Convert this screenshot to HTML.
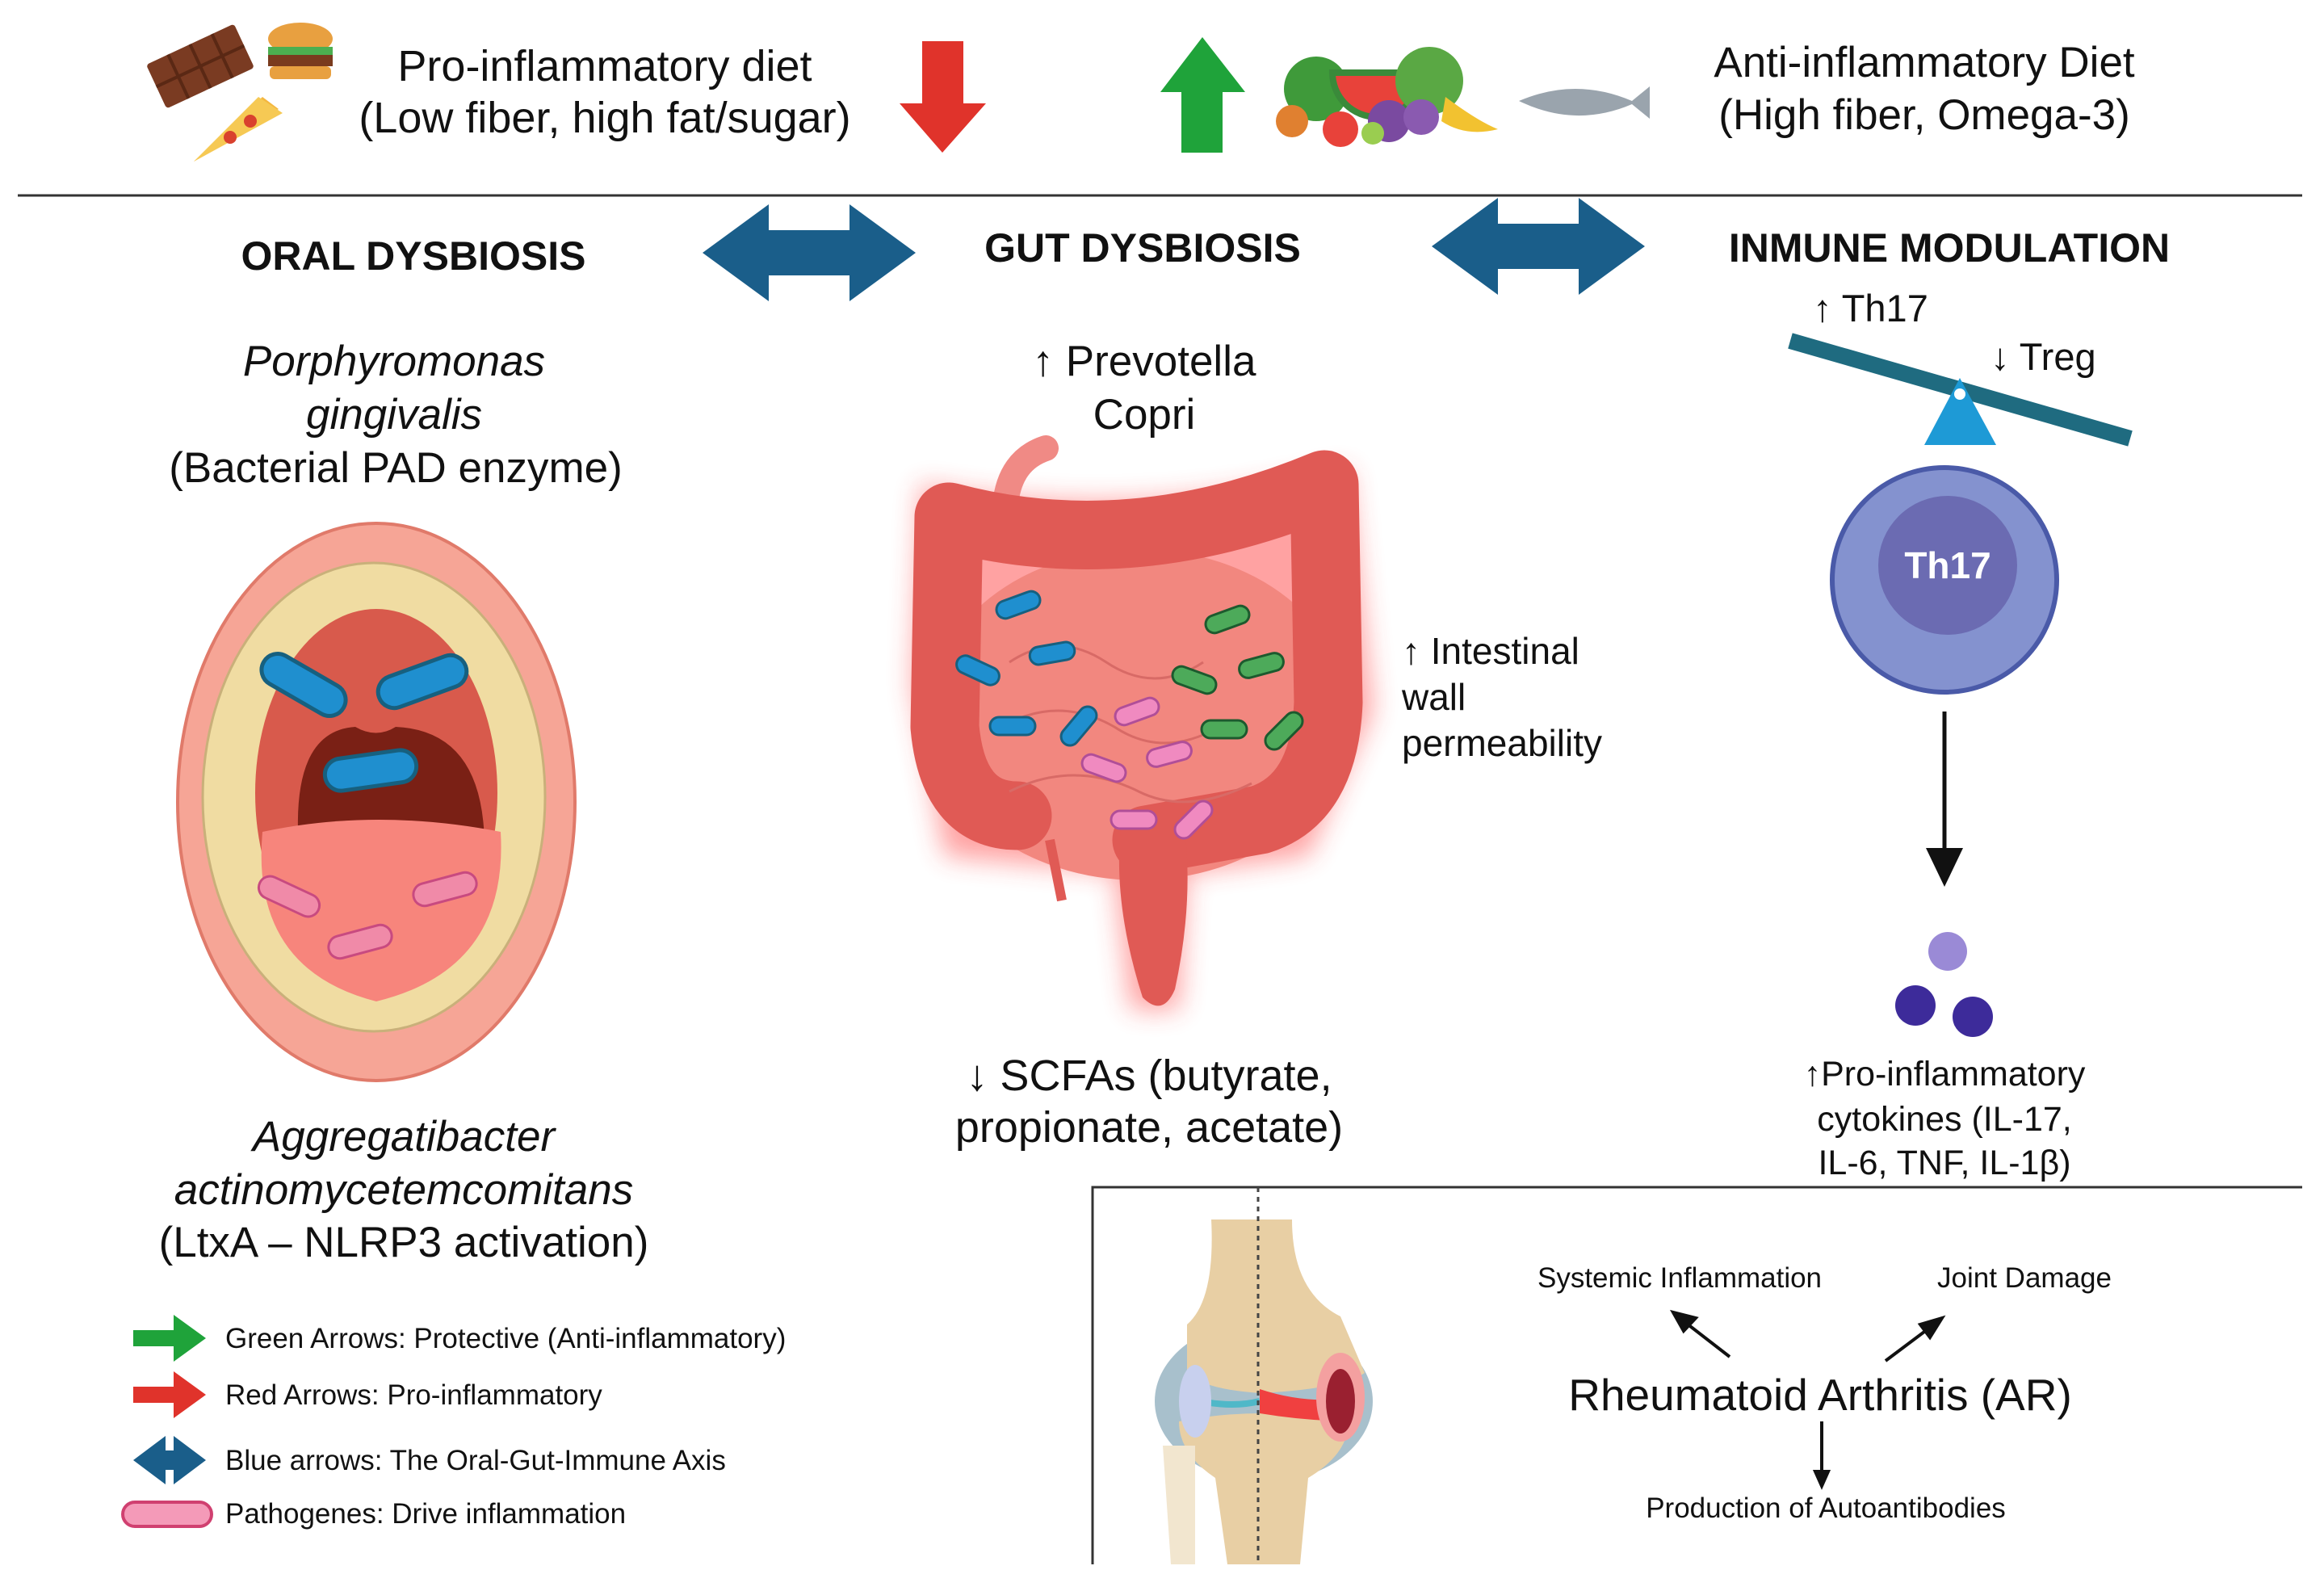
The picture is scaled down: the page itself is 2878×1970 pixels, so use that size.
<!DOCTYPE html>
<html><head><meta charset="utf-8"><style>
html,body{margin:0;padding:0;background:#fff}
svg{display:block}
text{font-family:"Liberation Sans",sans-serif;fill:#111}
</style></head><body>
<svg width="2878" height="1970" viewBox="0 0 2878 1970" xmlns="http://www.w3.org/2000/svg">
<defs>
<filter id="glow" x="-20%" y="-20%" width="140%" height="140%"><feGaussianBlur stdDeviation="16"/></filter>
<g id="bb"><rect x="-28" y="-11" width="56" height="22" rx="11" fill="#1f8fcf" stroke="#17607f" stroke-width="3"/></g>
<g id="gb"><rect x="-28" y="-11" width="56" height="22" rx="11" fill="#4daa5a" stroke="#1d5a2e" stroke-width="3"/></g>
<g id="pb"><rect x="-28" y="-11" width="56" height="22" rx="11" fill="#f08ac0" stroke="#b04e98" stroke-width="3"/></g>
</defs>

<!-- top icons -->
<g transform="translate(248,82) rotate(-25)"><rect x="-60" y="-30" width="120" height="60" rx="4" fill="#7a3b22"/><path d="M-30 -30V30M0 -30V30M30 -30V30M-60 0H60" stroke="#5a2814" stroke-width="4"/></g>
<ellipse cx="372" cy="48" rx="40" ry="20" fill="#e8a040"/><rect x="332" y="58" width="80" height="10" fill="#4caf50"/><rect x="332" y="68" width="80" height="14" fill="#7a3b1e"/><rect x="334" y="82" width="76" height="16" rx="6" fill="#e8a040"/>
<path d="M240 200 L345 135 L325 120 Z" fill="#f4b740"/><path d="M240 200 L320 120 L350 140 Z" fill="#f6c954"/><circle cx="285" cy="170" r="8" fill="#d9412e"/><circle cx="310" cy="150" r="8" fill="#d9412e"/>
<text x="749" y="100" font-size="54" text-anchor="middle">Pro-inflammatory diet</text>
<text x="749" y="164" font-size="54" text-anchor="middle">(Low fiber, high fat/sugar)</text>
<path d="M1142 51H1193V128H1221L1167 189L1114 128H1142Z" fill="#e0332b"/>
<path d="M1463 189V114H1437L1489 46L1542 114H1514V189Z" fill="#1fa33a"/>
<!-- veggies -->
<circle cx="1630" cy="110" r="40" fill="#3f9a3a"/><path d="M1650 90 a55 55 0 0 0 110 0Z" fill="#e8423a" stroke="#3a8a3a" stroke-width="8"/><circle cx="1770" cy="100" r="42" fill="#5aa844"/><circle cx="1720" cy="150" r="26" fill="#7a4aa0"/><circle cx="1760" cy="145" r="22" fill="#8a5ab0"/><path d="M1790 120 q40 30 65 40 q-40 10 -70 -10Z" fill="#f2c230"/><circle cx="1600" cy="150" r="20" fill="#e08030"/><circle cx="1660" cy="160" r="22" fill="#e8423a"/><circle cx="1700" cy="165" r="14" fill="#9acd50"/>
<path d="M1881 125 q70 -30 140 0 l22 -18 v40 l-22 -18 q-70 30 -140 -4Z" fill="#9aa4ad"/>
<text x="2383" y="95" font-size="53" text-anchor="middle">Anti-inflammatory Diet</text>
<text x="2383" y="160" font-size="53" text-anchor="middle">(High fiber, Omega-3)</text>
<line x1="22" y1="242" x2="2851" y2="242" stroke="#333" stroke-width="3"/>

<!-- headings + blue arrows -->
<text x="512" y="334" font-size="50" font-weight="bold" text-anchor="middle">ORAL DYSBIOSIS</text>
<text x="1415" y="324" font-size="50" font-weight="bold" text-anchor="middle">GUT DYSBIOSIS</text>
<text x="2414" y="324" font-size="50" font-weight="bold" text-anchor="middle">INMUNE MODULATION</text>
<path d="M870 313 L952 253 V285 H1052 V253 L1134 313 L1052 373 V341 H952 V373Z" fill="#1a5e8a"/>
<path d="M1773 305 L1855 245 V277 H1955 V245 L2037 305 L1955 365 V333 H1855 V365Z" fill="#1a5e8a"/>

<!-- oral text -->
<text x="488" y="465" font-size="53" font-style="italic" text-anchor="middle">Porphyromonas</text>
<text x="488" y="531" font-size="53" font-style="italic" text-anchor="middle">gingivalis</text>
<text x="490" y="597" font-size="53" text-anchor="middle">(Bacterial PAD enzyme)</text>

<!-- mouth -->
<ellipse cx="466" cy="993" rx="246" ry="345" fill="#f6a596" stroke="#e07a6a" stroke-width="4"/>
<ellipse cx="463" cy="987" rx="212" ry="290" fill="#f0dca2" stroke="#c9b07a" stroke-width="3"/>
<ellipse cx="466" cy="982" rx="150" ry="228" fill="#d85a4c"/>
<path d="M370 1050 Q360 905 440 900 Q466 915 490 900 Q600 905 600 1050Z" fill="#7a2015"/>
<path d="M325 1030 Q466 1000 620 1030 Q630 1200 466 1240 Q310 1200 325 1030Z" fill="#f7857c"/>
<g transform="translate(376,848) rotate(30)"><rect x="-57" y="-20" width="114" height="40" rx="20" fill="#1f8fcf" stroke="#17607f" stroke-width="5"/></g>
<g transform="translate(523,844) rotate(-20)"><rect x="-57" y="-20" width="114" height="40" rx="20" fill="#1f8fcf" stroke="#17607f" stroke-width="5"/></g>
<g transform="translate(459,954) rotate(-8)"><rect x="-57" y="-20" width="114" height="40" rx="20" fill="#1f8fcf" stroke="#17607f" stroke-width="5"/></g>
<g transform="translate(358,1110) rotate(25)"><rect x="-40" y="-14" width="80" height="28" rx="14" fill="#f08aa8" stroke="#c84a80" stroke-width="3"/></g>
<g transform="translate(551,1101) rotate(-15)"><rect x="-40" y="-14" width="80" height="28" rx="14" fill="#f08aa8" stroke="#c84a80" stroke-width="3"/></g>
<g transform="translate(446,1166) rotate(-15)"><rect x="-40" y="-14" width="80" height="28" rx="14" fill="#f08aa8" stroke="#c84a80" stroke-width="3"/></g>

<text x="500" y="1425" font-size="53" font-style="italic" text-anchor="middle">Aggregatibacter</text>
<text x="500" y="1491" font-size="53" font-style="italic" text-anchor="middle">actinomycetemcomitans</text>
<text x="500" y="1556" font-size="53" text-anchor="middle">(LtxA – NLRP3 activation)</text>

<!-- legend -->
<path d="M165 1647H215V1628L255 1657L215 1686V1667H165Z" fill="#1fa33a"/>
<path d="M165 1717H215V1698L255 1727L215 1756V1737H165Z" fill="#e0332b"/>
<path d="M165 1808L205 1778V1796H215V1778L255 1808L215 1838V1820H205V1838Z" fill="#1a5e8a"/>
<rect x="152" y="1860" width="110" height="30" rx="15" fill="#f49ab8" stroke="#d04070" stroke-width="4"/>
<text x="279" y="1669" font-size="35">Green Arrows: Protective (Anti-inflammatory)</text>
<text x="279" y="1739" font-size="35">Red Arrows: Pro-inflammatory</text>
<text x="279" y="1820" font-size="35">Blue arrows: The Oral-Gut-Immune Axis</text>
<text x="279" y="1886" font-size="35">Pathogenes: Drive inflammation</text>

<!-- gut -->
<text x="1417" y="465" font-size="53" text-anchor="middle">↑ Prevotella</text>
<text x="1417" y="531" font-size="53" text-anchor="middle">Copri</text>
<g>
<path d="M1140 600 Q1400 650 1670 580 L1700 880 L1620 1060 L1470 1080 L1460 1250 L1400 1250 L1380 1080 L1170 1060 L1130 850Z" fill="#ff3030" opacity="0.45" filter="url(#glow)"/>
<path d="M1245 625 Q1250 570 1295 555" stroke="#f08a85" stroke-width="32" fill="none" stroke-linecap="round"/>
<ellipse cx="1410" cy="885" rx="260" ry="205" fill="#f2877f"/>
<path d="M1175 640 Q1400 700 1640 600 L1645 870 Q1640 990 1560 1015 L1420 1040 M1175 640 L1170 900 Q1180 1010 1260 1010" stroke="#e05a55" stroke-width="85" fill="none" stroke-linejoin="round" stroke-linecap="round"/>
<path d="M1390 1010 Q1375 1110 1415 1235 Q1440 1260 1455 1225 Q1480 1110 1465 1010Z" fill="#e05a55"/>
<path d="M1300 1040 Q1310 1090 1315 1115" stroke="#e05a55" stroke-width="12" fill="none"/>
<g fill="none" stroke="#d86a66" stroke-width="3"><path d="M1250 820 q60 -40 120 0 q60 40 120 0"/><path d="M1240 900 q70 -40 140 0 q60 40 130 0"/><path d="M1250 980 q80 -40 160 0 q60 30 140 -10"/></g>
</g>
<use href="#bb" transform="translate(1261,749) rotate(-20)"/><use href="#bb" transform="translate(1303,809) rotate(-10)"/><use href="#bb" transform="translate(1211,830) rotate(25)"/><use href="#bb" transform="translate(1254,899)"/><use href="#bb" transform="translate(1336,899) rotate(-50)"/>
<use href="#gb" transform="translate(1520,767) rotate(-20)"/><use href="#gb" transform="translate(1562,824) rotate(-15)"/><use href="#gb" transform="translate(1479,842) rotate(20)"/><use href="#gb" transform="translate(1516,903)"/><use href="#gb" transform="translate(1590,905) rotate(-45)"/>
<use href="#pb" transform="translate(1408,881) rotate(-20)"/><use href="#pb" transform="translate(1367,951) rotate(20)"/><use href="#pb" transform="translate(1448,934) rotate(-15)"/><use href="#pb" transform="translate(1404,1015)"/><use href="#pb" transform="translate(1478,1015) rotate(-45)"/>
<text x="1736" y="822" font-size="46">↑ Intestinal</text>
<text x="1736" y="879" font-size="46">wall</text>
<text x="1736" y="936" font-size="46">permeability</text>
<text x="1423" y="1350" font-size="54" text-anchor="middle">↓ SCFAs (butyrate,</text>
<text x="1423" y="1414" font-size="54" text-anchor="middle">propionate, acetate)</text>

<!-- immune -->
<text x="2245" y="398" font-size="47">↑ Th17</text>
<text x="2465" y="458" font-size="47">↓ Treg</text>
<line x1="2217" y1="422" x2="2638" y2="543" stroke="#1f6b80" stroke-width="20"/>
<path d="M2427 468 L2472 551 H2383Z" fill="#1e9ad6"/><circle cx="2427" cy="488" r="7" fill="#fff"/>
<circle cx="2408" cy="718" r="139" fill="#8492cf" stroke="#4a5aa8" stroke-width="6"/>
<circle cx="2412" cy="700" r="86" fill="#6b6bb2"/>
<text x="2412" y="716" font-size="46" font-weight="bold" text-anchor="middle" style="fill:#fff">Th17</text>
<line x1="2408" y1="881" x2="2408" y2="1055" stroke="#111" stroke-width="5"/>
<path d="M2385 1050 H2431 L2408 1098Z" fill="#111"/>
<circle cx="2412" cy="1178" r="24" fill="#9a8ad6"/>
<circle cx="2372" cy="1245" r="25" fill="#3d2b9a"/>
<circle cx="2443" cy="1259" r="25" fill="#3d2b9a"/>
<text x="2408" y="1344" font-size="43" text-anchor="middle">↑Pro-inflammatory</text>
<text x="2408" y="1400" font-size="43" text-anchor="middle">cytokines (IL-17,</text>
<text x="2408" y="1454" font-size="43" text-anchor="middle">IL-6, TNF, IL-1β)</text>

<!-- RA box -->
<path d="M1353 1937V1470H2851" stroke="#333" stroke-width="3" fill="none"/>
<!-- knee -->
<ellipse cx="1565" cy="1735" rx="135" ry="100" fill="#a8c0cc"/>
<path d="M1470 1640 Q1505 1610 1500 1510 H1600 Q1600 1600 1660 1630 L1690 1700 Q1660 1720 1560 1725 Q1490 1720 1470 1700Z" fill="#e8cfa4"/>
<path d="M1460 1760 Q1560 1740 1670 1760 Q1670 1800 1620 1830 L1610 1937 H1520 L1505 1830 Q1460 1800 1460 1760Z" fill="#e8cfa4"/>
<path d="M1440 1790 H1480 V1937 H1450Z" fill="#f2e6cf"/>
<path d="M1465 1730 Q1520 1745 1560 1735" stroke="#4fb8c8" stroke-width="8" fill="none"/><ellipse cx="1480" cy="1735" rx="20" ry="45" fill="#c8d0ee"/>
<path d="M1560 1720 Q1620 1740 1680 1730 L1680 1760 Q1620 1760 1560 1750Z" fill="#f04040"/>
<ellipse cx="1660" cy="1730" rx="30" ry="55" fill="#f4a0a0"/><ellipse cx="1660" cy="1735" rx="18" ry="40" fill="#9a2030"/>
<line x1="1558" y1="1470" x2="1558" y2="1937" stroke="#444" stroke-width="3" stroke-dasharray="6 6"/>
<text x="2254" y="1746" font-size="55" text-anchor="middle">Rheumatoid Arthritis (AR)</text>
<text x="2080" y="1594" font-size="35" text-anchor="middle">Systemic Inflammation</text>
<text x="2507" y="1594" font-size="35" text-anchor="middle">Joint Damage</text>
<text x="2261" y="1879" font-size="35" text-anchor="middle">Production of Autoantibodies</text>
<g stroke="#111" stroke-width="4" fill="#111">
<line x1="2142" y1="1680" x2="2080" y2="1632"/><path d="M2072 1625 L2100 1632 L2085 1648Z"/>
<line x1="2335" y1="1685" x2="2395" y2="1640"/><path d="M2405 1632 L2390 1656 L2378 1640Z"/>
<line x1="2256" y1="1760" x2="2256" y2="1830"/><path d="M2248 1822 H2264 L2256 1840Z"/>
</g>
</svg>
</body></html>
